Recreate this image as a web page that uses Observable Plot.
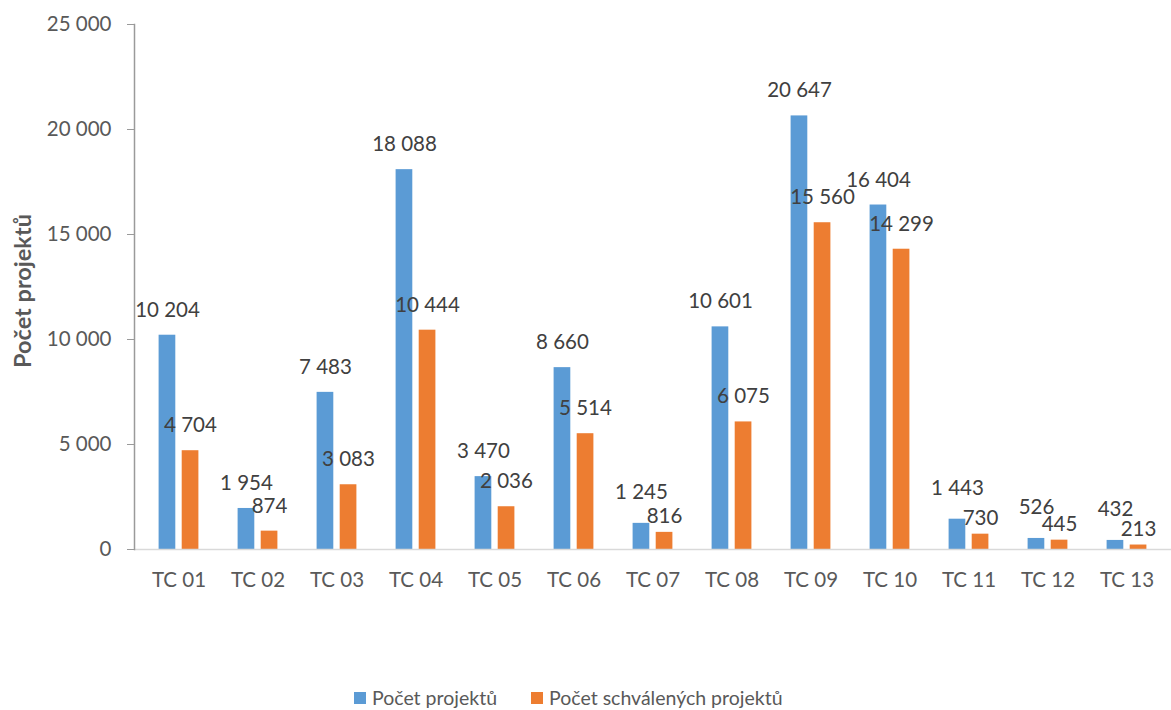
<!DOCTYPE html>
<html>
<head>
<meta charset="utf-8">
<script src="https://cdn.jsdelivr.net/npm/d3@7"></script>
<script src="https://cdn.jsdelivr.net/npm/@observablehq/plot@0.6"></script>
<style>
  body { margin: 0; background: #fff; font-family: Lato, "Open Sans", sans-serif; }
  #legend { height: 70px; box-sizing: border-box; padding-top: 46px; padding-left: 354px; display: flex; align-items: center; font-size: 19.5px; color: #595959; line-height: 24px; }
  .sw { display: inline-block; width: 12px; height: 12px; margin-right: 6px; }
  .item { display: flex; align-items: center; margin-right: 34px; }
</style>
</head>
<body>
<div id="chart"></div>
<div id="legend"></div>
<script>
const categories = ["TC 01","TC 02","TC 03","TC 04","TC 05","TC 06","TC 07","TC 08","TC 09","TC 10","TC 11","TC 12","TC 13"];
const projekty = [10204,1954,7483,18088,3470,8660,1245,10601,20647,16404,1443,526,432];
const schvalene = [4704,874,3083,10444,2036,5514,816,6075,15560,14299,730,445,213];
const yTicks = [0,5000,10000,15000,20000,25000];
const seriesNames = ["Počet projektů","Počet schválených projektů"];
const seriesColors = ["#5B9BD5","#ED7D31"];
const yTitle = "Počet projektů";

const fmt = v => d3.format(",")(v).replace(/,/g, " ");

// pairs whose values are close get staggered labels (as the spreadsheet did)
const close = categories.map((c,i) => Math.abs(projekty[i] - schvalene[i]) < 1000);
const dataA = categories.map((c,i) => ({cat: c, value: projekty[i], close: close[i]}));
const dataB = categories.map((c,i) => ({cat: c, value: schvalene[i], close: close[i]}));

const labelStyle = {x: "cat", y: "value", text: d => fmt(d.value), fontSize: 20.5, fill: "#404040", lineAnchor: "middle"};

const plot = Plot.plot({
  width: 1171,
  height: 640,
  marginLeft: 134,
  marginRight: 0,
  marginTop: 24,
  marginBottom: 91,
  style: {fontFamily: "Lato, 'Open Sans', sans-serif", background: "#fff"},
  x: {domain: categories, padding: 0},
  y: {domain: [0, 25000]},
  marks: [
    Plot.barY(dataA, {x: "cat", y: "value", fill: seriesColors[0], insetLeft: 19.6, insetRight: 42.7}),
    Plot.barY(dataB, {x: "cat", y: "value", fill: seriesColors[1], insetLeft: 42.7, insetRight: 19.6}),
    Plot.ruleY([0], {stroke: "#d9d9d9", strokeWidth: 1.5}),
    Plot.frame({anchor: "left", stroke: "#9a9a9a", strokeWidth: 1.5}),
    Plot.axisY({ticks: yTicks, tickFormat: fmt, tickSize: 7, tickPadding: 16, fontSize: 20.5, color: "#595959", stroke: "#9a9a9a", label: null}),
    Plot.axisX({tickSize: 0, tickPadding: 23, fontSize: 20.5, color: "#595959", label: null}),
    Plot.text(dataA, {...labelStyle, filter: d => !d.close, dx: -11.5, dy: -25}),
    Plot.text(dataA, {...labelStyle, filter: d => d.close, dx: -11.5, dy: -31}),
    Plot.text(dataB, {...labelStyle, filter: d => !d.close, dx: 11.5, dy: -25}),
    Plot.text(dataB, {...labelStyle, filter: d => d.close, dx: 11.5, dy: -16}),
    Plot.text([yTitle], {frameAnchor: "left", text: d => d, rotate: -90, dx: -111, dy: 4, fontSize: 23.5, fontWeight: "bold", fill: "#595959", textAnchor: "middle", lineAnchor: "middle"})
  ]
});
document.getElementById("chart").appendChild(plot);

const legend = document.getElementById("legend");
seriesNames.forEach((n,i) => {
  const it = document.createElement("div");
  it.className = "item";
  const sw = document.createElement("span");
  sw.className = "sw";
  sw.style.background = seriesColors[i];
  it.appendChild(sw);
  it.appendChild(document.createTextNode(n));
  legend.appendChild(it);
});
</script>
</body>
</html>
